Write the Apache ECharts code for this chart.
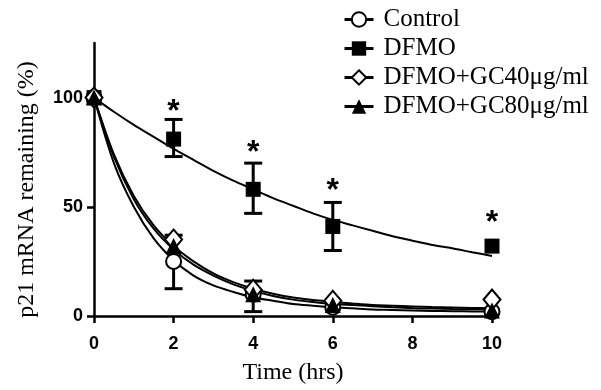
<!DOCTYPE html>
<html>
<head>
<meta charset="utf-8">
<script src="https://cdn.jsdelivr.net/npm/echarts@6/dist/echarts.min.js"></script>
<style>html,body{margin:0;padding:0;background:#fff;}#chart{width:601px;height:390px;}</style>
</head>
<body>
<div id="chart"></div>
<script>
// ---- data ----
const timePoints = [0, 2, 4, 6, 10];
const controlValues = [100, 25, 10, 4, 2];
const dfmoValues = [100, 81, 58, 41, 32];
const gc40Values = [100, 35, 12, 7, 7.5];
const gc80Values = [100, 32, 10, 5, 2.5];

// fitted curves (every 0.5 h)
const curveTimes = [0, 0.5, 1, 1.5, 2, 2.5, 3, 3.5, 4, 4.5, 5, 5.5, 6, 6.5, 7, 7.5, 8, 8.5, 9, 9.5, 10];
const controlCurve = [100, 70, 50, 35.5, 25.5, 18.5, 14, 11, 8.5, 7, 5.5, 4.7, 4, 3.5, 3, 2.8, 2.5, 2.3, 2.2, 2.1, 2];
const dfmoCurve = [100, 93.5, 87.5, 82, 76.5, 71.5, 66.5, 62, 58, 54, 50.5, 47, 44, 41.5, 39, 36.5, 34.5, 32.5, 31, 29.2, 27.5];
const gc40Curve = [100, 74, 55, 41.5, 32, 25, 19.5, 15.5, 12.5, 10.2, 8.5, 7.3, 6.5, 5.7, 5, 4.7, 4.4, 4.1, 3.9, 3.7, 3.5];
const gc80Curve = [100, 73, 53.5, 40, 30.5, 23.5, 18.5, 14.5, 11.5, 9.2, 7.5, 6.4, 5.5, 5, 4.5, 4, 3.6, 3.4, 3.2, 3.1, 3];

// error bars
const dfmoErrTimes = [2, 4, 6];
const dfmoErrLow = [73, 47, 30];
const dfmoErrHigh = [90, 70, 52];
const controlErrTimes = [2, 4];
const controlErrLow = [12.5, 2];
const controlErrHigh = [37, 16];

// significance asterisks
const asteriskTimes = [2, 4, 6, 10];
const asteriskLevels = [97.5, 78.5, 61.5, 46.5];

const xTicks = [0, 2, 4, 6, 8, 10];
const yTicks = [0, 50, 100];

const seriesNames = ['Control', 'DFMO', 'DFMO+GC40\u03bcg/ml', 'DFMO+GC80\u03bcg/ml'];

// ---- build ----
const zip = (xs, ys) => xs.map((x, i) => [x, ys[i]]);
const errData = (ts, lo, hi) => ts.map((t, i) => [t, lo[i], hi[i]]);

const markerDefs = [
  {name: seriesNames[0], pts: controlValues, curve: controlCurve, symbol: 'emptyCircle', size: 15},
  {name: seriesNames[1], pts: dfmoValues, curve: dfmoCurve, symbol: 'rect', size: 15},
  {name: seriesNames[2], pts: gc40Values, curve: gc40Curve, symbol: 'emptyDiamond', size: [17, 20]},
  {name: seriesNames[3], pts: gc80Values, curve: gc80Curve, symbol: 'triangle', size: 16}
];

const series = [];
markerDefs.forEach(d => {
  series.push({
    name: d.name, type: 'line', data: zip(curveTimes, d.curve),
    smooth: 0.3, symbol: d.symbol, showSymbol: false, symbolSize: d.size,
    lineStyle: {color: '#000', width: 2}, itemStyle: {color: '#000', opacity: 1},
    silent: true, z: 2
  });
});

function errRender(params, api) {
  const x = api.value(0);
  const lo = api.coord([x, api.value(1)]);
  const hi = api.coord([x, api.value(2)]);
  const cap = 9;
  const st = {stroke: '#000', lineWidth: 3};
  return {type: 'group', children: [
    {type: 'line', shape: {x1: lo[0], y1: lo[1], x2: hi[0], y2: hi[1]}, style: st},
    {type: 'line', shape: {x1: lo[0] - cap, y1: lo[1], x2: lo[0] + cap, y2: lo[1]}, style: st},
    {type: 'line', shape: {x1: hi[0] - cap, y1: hi[1], x2: hi[0] + cap, y2: hi[1]}, style: st}
  ]};
}
series.push({type: 'custom', name: 'dfmoErr', data: errData(dfmoErrTimes, dfmoErrLow, dfmoErrHigh), renderItem: errRender, z: 3, silent: true, clip: false});
series.push({type: 'custom', name: 'ctrlErr', data: errData(controlErrTimes, controlErrLow, controlErrHigh), renderItem: errRender, z: 3, silent: true, clip: false});

markerDefs.forEach(d => {
  series.push({
    name: d.name + ' pts', type: 'scatter', data: zip(timePoints, d.pts),
    symbol: d.symbol, symbolSize: d.size, clip: false, z: 5,
    itemStyle: {color: '#000', borderColor: '#000', opacity: 1, borderWidth: d.symbol.indexOf('empty') === 0 ? 2.5 : 0},
    silent: true
  });
});

series.push({
  type: 'scatter', name: 'stars', data: zip(asteriskTimes, asteriskLevels),
  symbolSize: 0, clip: false, z: 6, silent: true,
  itemStyle: {opacity: 1},
  label: {show: true, position: 'inside', formatter: '*', color: '#000',
    fontFamily: 'Liberation Sans', fontWeight: 'bold', fontSize: 32, offset: [0, 9]}
});

const serif = 'Liberation Serif';
const option = {
  animation: false,
  backgroundColor: '#fff',
  grid: {left: 94, right: 109, top: 43, bottom: 73},
  legend: {
    data: seriesNames, orient: 'vertical', left: 338, top: 2,
    itemWidth: 29, itemHeight: 18, itemGap: 4,
    lineStyle: {width: 3},
    textStyle: {fontFamily: serif, fontSize: 25, color: '#000', padding: [0, 0, 0, 5]},
    selectedMode: false
  },
  xAxis: {
    type: 'value', min: 0, max: 10, interval: 2,
    name: 'Time (hrs)', nameLocation: 'middle', nameGap: 45,
    nameTextStyle: {fontFamily: serif, fontSize: 24, color: '#000'},
    axisLine: {lineStyle: {color: '#000', width: 2.5}},
    axisTick: {show: true, length: 7, lineStyle: {color: '#000', width: 2.5}, customValues: xTicks},
    axisLabel: {fontFamily: 'Liberation Sans', fontWeight: 'bold', fontSize: 18, color: '#000', margin: 19, customValues: xTicks},
    splitLine: {show: false}
  },
  yAxis: {
    type: 'value', min: 0, max: 125, interval: 50,
    name: 'p21 mRNA remaining (%)', nameLocation: 'middle', nameGap: 55,
    nameTextStyle: {fontFamily: serif, fontSize: 24, color: '#000', padding: [0, 20, 0, 0]},
    axisLine: {show: true, lineStyle: {color: '#000', width: 2.5}},
    axisTick: {show: true, length: 7, lineStyle: {color: '#000', width: 2.5}, customValues: yTicks},
    axisLabel: {fontFamily: 'Liberation Sans', fontWeight: 'bold', fontSize: 18, color: '#000', margin: 11, customValues: yTicks},
    splitLine: {show: false}
  },
  series: series
};

const chart = echarts.init(document.getElementById('chart'), null, {renderer: 'canvas'});
chart.setOption(option);
</script>
</body>
</html>
